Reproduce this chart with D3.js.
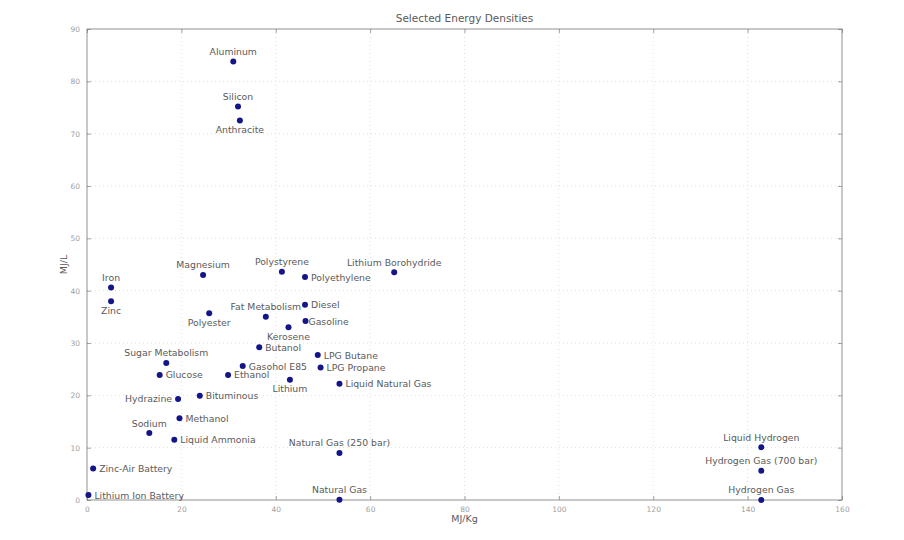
<!DOCTYPE html>
<html>
<head>
<meta charset="utf-8">
<script src="https://cdn.jsdelivr.net/npm/d3@7"></script>
<style>
  html, body { margin: 0; padding: 0; background: #fff; }
  svg { display: block; font-family: "DejaVu Sans", sans-serif; }
</style>
</head>
<body>
<svg id="chart" width="904" height="540"></svg>
<script>
const materials = ["Aluminum","Silicon","Anthracite","Magnesium","Iron","Zinc","Polystyrene","Polyethylene",
  "Lithium Borohydride","Diesel","Fat Metabolism","Polyester","Gasoline","Kerosene","Butanol","LPG Butane",
  "LPG Propane","Sugar Metabolism","Glucose","Gasohol E85","Ethanol","Lithium","Liquid Natural Gas",
  "Hydrazine","Bituminous","Methanol","Sodium","Liquid Ammonia","Zinc-Air Battery","Lithium Ion Battery",
  "Natural Gas (250 bar)","Natural Gas","Liquid Hydrogen","Hydrogen Gas (700 bar)","Hydrogen Gas"];
const mjPerKg = [31.0, 32.0, 32.4, 24.6, 5.1, 5.1, 41.3, 46.2,
  65.1, 46.2, 37.9, 25.9, 46.3, 42.7, 36.5, 48.9,
  49.5, 16.8, 15.4, 33.0, 29.9, 43.0, 53.5,
  19.3, 23.9, 19.6, 13.2, 18.5, 1.3, 0.3,
  53.5, 53.5, 142.9, 142.9, 142.9];
const mjPerL = [83.8, 75.2, 72.5, 43.0, 40.6, 38.0, 43.6, 42.6,
  43.5, 37.3, 35.0, 35.7, 34.2, 33.0, 29.2, 27.7,
  25.3, 26.2, 23.9, 25.6, 23.9, 23.0, 22.2,
  19.3, 19.9, 15.6, 12.8, 11.5, 6.0, 0.95,
  9.0, 0.036, 10.1, 5.6, 0.011];
// label placement: a = above, b = below, r = right, rt = right (tight), l = left
const placement = ["a","a","b","a","a","b","a","r",
  "a","r","a","b","rt","b","r","r",
  "r","a","r","r","r","b","r",
  "l","r","r","a","r","r","r",
  "a","a","a","a","a"];
const xTicks = [0,20,40,60,80,100,120,140,160];
const yTicks = [0,10,20,30,40,50,60,70,80,90];

const svg = d3.select("#chart");
const m = {left: 87, right: 842, top: 29, bottom: 500};
const x = d3.scaleLinear().domain([0,160]).range([m.left, m.right]);
const y = d3.scaleLinear().domain([0,90]).range([m.bottom, m.top]);

// grid
const grid = svg.append("g");
grid.selectAll("line.gx").data(xTicks.slice(1,-1)).enter().append("line")
  .attr("x1", d=>x(d)).attr("x2", d=>x(d)).attr("y1", m.top).attr("y2", m.bottom)
  .attr("stroke", "#d8d8d8").attr("stroke-width", 0.8).attr("stroke-dasharray", "1,3");
grid.selectAll("line.gy").data(yTicks.slice(1,-1)).enter().append("line")
  .attr("y1", d=>y(d)).attr("y2", d=>y(d)).attr("x1", m.left).attr("x2", m.right)
  .attr("stroke", "#d8d8d8").attr("stroke-width", 0.8).attr("stroke-dasharray", "1,3");

// axes
const xAxis = d3.axisBottom(x).tickValues(xTicks).tickSize(-4).tickPadding(7).tickFormat(d3.format("d"));
const yAxis = d3.axisLeft(y).tickValues(yTicks).tickSize(-4).tickPadding(7).tickFormat(d3.format("d"));
const gx = svg.append("g").attr("transform", `translate(0,${m.bottom})`).call(xAxis);
const gy = svg.append("g").attr("transform", `translate(${m.left},0)`).call(yAxis);
[gx, gy].forEach(g => {
  g.select(".domain").remove();
  g.selectAll(".tick line").attr("stroke", "#666").attr("stroke-width", 0.6);
  g.selectAll(".tick text").attr("fill", "#a0a0a0").style("font-size", "7.5px").style("font-family", "DejaVu Sans");
});
// top/right ticks
svg.append("g").attr("transform", `translate(0,${m.top})`).call(d3.axisTop(x).tickValues(xTicks).tickSize(-4).tickFormat(""))
  .call(g => { g.select(".domain").remove(); g.selectAll(".tick line").attr("stroke","#666").attr("stroke-width",0.6); });
svg.append("g").attr("transform", `translate(${m.right},0)`).call(d3.axisRight(y).tickValues(yTicks).tickSize(-4).tickFormat(""))
  .call(g => { g.select(".domain").remove(); g.selectAll(".tick line").attr("stroke","#666").attr("stroke-width",0.6); });

// frame
svg.append("rect").attr("x", m.left).attr("y", m.top)
  .attr("width", m.right-m.left).attr("height", m.bottom-m.top)
  .attr("fill", "none").attr("stroke", "#777").attr("stroke-width", 0.8);

// title & axis labels
svg.append("text").attr("x", (m.left+m.right)/2).attr("y", 22).attr("text-anchor","middle")
  .attr("fill","#5a5a5a").style("font-size","10.5px").text("Selected Energy Densities");
svg.append("text").attr("x", (m.left+m.right)/2).attr("y", 522).attr("text-anchor","middle")
  .attr("fill","#5a5a5a").style("font-size","9.5px").text("MJ/Kg");
svg.append("text").attr("transform", `translate(67,${(m.top+m.bottom)/2}) rotate(-90)`).attr("text-anchor","middle")
  .attr("fill","#5a5a5a").style("font-size","9.5px").text("MJ/L");

const data = materials.map((n,i)=>({name:n, kg:mjPerKg[i], l:mjPerL[i], p:placement[i]}));

// points
svg.append("g").selectAll("circle").data(data).enter().append("circle")
  .attr("cx", d=>x(d.kg)).attr("cy", d=>y(d.l)).attr("r", 3)
  .attr("fill", "#15158a");

// labels
svg.append("g").selectAll("text").data(data).enter().append("text")
  .attr("x", d => {
    const cx = x(d.kg);
    if (d.p === "r") return cx + 6;
    if (d.p === "rt") return cx + 3;
    if (d.p === "l") return cx - 6;
    return cx;
  })
  .attr("y", d => {
    const cy = y(d.l);
    if (d.p === "a") return cy - 6.5;
    if (d.p === "b") return cy + 12.5;
    return cy + 3.5;
  })
  .attr("text-anchor", d => (d.p === "a" || d.p === "b") ? "middle" : (d.p === "l" ? "end" : "start"))
  .attr("fill", "#5a5a5a").style("font-size", "9.3px")
  .text(d => d.name);
</script>
</body>
</html>
